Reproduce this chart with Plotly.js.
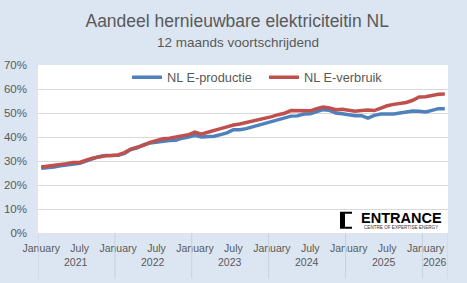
<!DOCTYPE html>
<html><head><meta charset="utf-8">
<script src="https://cdn.plot.ly/plotly-3.0.1.min.js"></script>
<style>html,body{margin:0;padding:0;background:#DCE6F2;} #chart{width:467px;height:283px;}</style>
</head><body><div id="chart"></div>
<script>
const years = [2021, 2022, 2023, 2024, 2025, 2026];
const monthNames = ['January','February','March','April','May','June','July','August','September','October','November','December'];
const monthsInLastYear = 4;
const seriesNames = ['NL E-productie', 'NL E-verbruik'];
// % renewable share, 12-month rolling, Jan 2021 .. Apr 2026
const productie = [27.0,27.2,27.5,28.0,28.3,28.6,29.0,30.0,31.0,31.8,32.3,32.4,
  32.4,33.2,34.8,35.5,36.8,37.5,37.9,38.0,38.5,38.6,39.5,40.0,
  40.7,40.0,40.0,40.3,41.0,41.7,43.0,43.0,43.5,44.2,45.0,45.8,
  46.5,47.2,47.8,48.7,48.8,49.6,49.7,50.4,51.4,51.1,50.0,49.7,
  49.2,48.9,48.9,47.9,49.0,49.6,49.6,49.6,50.0,50.4,50.8,50.7,
  50.4,51.1,51.8,51.8];
const verbruik = [27.5,27.8,28.0,28.4,28.9,29.4,29.4,30.3,31.2,31.7,32.2,32.3,
  32.5,33.5,35.0,35.8,36.5,37.8,38.6,39.3,39.5,39.9,40.4,41.0,
  42.0,41.2,42.0,42.6,43.5,44.2,45.0,45.4,46.0,46.5,47.1,47.9,
  48.5,49.3,49.9,51.0,51.0,51.0,50.9,51.8,52.5,52.1,51.4,51.6,
  51.0,50.7,51.0,51.2,51.0,52.1,53.0,53.6,53.9,54.4,55.3,56.7,
  56.8,57.3,57.8,57.9];
const yTicks = [0, 10, 20, 30, 40, 50, 60, 70];
const yTickText = yTicks.map(v => v + '%');
const titleText = 'Aandeel hernieuwbare elektriciteitin NL';
const subtitleText = '12 maands voortschrijdend';
const logoText = 'ENTRANCE';
const logoSub = 'CENTRE OF EXPERTISE ENERGY';

const categories = [], catMonth = [], catYearIdx = [];
years.forEach((y, yi) => {
  const n = yi === years.length - 1 ? monthsInLastYear : 12;
  for (let m = 0; m < n; m++) {
    categories.push(y + '-' + String(m + 1).padStart(2, '0'));
    catMonth.push(m); catYearIdx.push(yi);
  }
});
const tickIdx = categories.map((c, i) => i).filter(i => catMonth[i] === 0 || catMonth[i] === 6);
const tickvals = tickIdx.map(i => categories[i]);
const ticktext = tickIdx.map(i => monthNames[catMonth[i]]);

// plot-area pixel helpers (plot area 38..448 x, 65.3..233.3 y)
const PL = 38, PR = 448, PT = 65.3, PB = 233.3;
const fx = px => (px - PL) / (PR - PL);
const fy = py => (PB - py) / (PB - PT);
const FONT = 'Liberation Sans, Arial, sans-serif';

const shapes = [];
const annotations = [];
const firstIdx = years.map((y, yi) => catYearIdx.indexOf(yi));
const bounds = firstIdx.map(i => i - 0.5).concat([categories.length - 0.5]);
bounds.forEach(b => shapes.push({type: 'line', xref: 'x', yref: 'paper', x0: b, x1: b, y0: 0, y1: fy(279),
  line: {color: '#C9D0DA', width: 1}}));
years.forEach((y, yi) => {
  const s = bounds[yi], e = bounds[yi + 1];
  annotations.push({xref: 'x', yref: 'paper', x: (s + e) / 2, y: fy(262), text: String(y), showarrow: false,
    xanchor: 'center', yanchor: 'middle', font: {family: FONT, size: 10.5, color: '#595959'}});
});
// subtitle
annotations.push({xref: 'paper', yref: 'paper', x: fx(238), y: fy(42.5), text: subtitleText, showarrow: false,
  xanchor: 'center', yanchor: 'middle', font: {family: FONT, size: 13.5, color: '#595959'}});
// logo
const bx = [[340,212],[352,212],[352,214],[345,214],[345,227],[352,227],[352,229],[340,229]];
shapes.push({type: 'path', xref: 'paper', yref: 'paper',
  path: 'M' + bx.map(p => fx(p[0]) + ',' + fy(p[1])).join(' L') + ' Z',
  fillcolor: '#000000', line: {width: 0}});
annotations.push({xref: 'paper', yref: 'paper', x: fx(401), y: fy(218.5), text: '<b>' + logoText + '</b>', showarrow: false,
  xanchor: 'center', yanchor: 'middle', font: {family: FONT, size: 14.5, color: '#000000'}});
annotations.push({xref: 'paper', yref: 'paper', x: fx(401), y: fy(227.5), text: logoSub, showarrow: false,
  xanchor: 'center', yanchor: 'middle', font: {family: FONT, size: 4.6, color: '#333333'}});

const traces = [
  {x: categories, y: productie, name: seriesNames[0], type: 'scatter', mode: 'lines',
   line: {color: '#4F81BD', width: 3.5}},
  {x: categories, y: verbruik, name: seriesNames[1], type: 'scatter', mode: 'lines',
   line: {color: '#C0504D', width: 3.5}}
];

const layout = {
  width: 467, height: 283,
  paper_bgcolor: '#DCE6F2', plot_bgcolor: '#FFFFFF',
  margin: {l: PL, r: 467 - PR, t: PT, b: 283 - PB, pad: 0},
  font: {family: FONT, color: '#595959'},
  title: {text: titleText, x: 0.508, xanchor: 'center', y: 1 - 21 / 283, yanchor: 'middle', yref: 'container',
    font: {size: 17.5, color: '#595959'}},
  showlegend: true,
  legend: {orientation: 'h', x: fx(127), y: fy(77.7), xanchor: 'left', yanchor: 'middle',
    bgcolor: 'rgba(0,0,0,0)', font: {size: 12.8, color: '#595959'}, itemwidth: 30, tracegroupgap: 0,
    entrywidth: 92},
  xaxis: {type: 'category', categoryorder: 'array', categoryarray: categories,
    range: [-0.5, categories.length - 0.5], tickmode: 'array', tickvals: tickvals, ticktext: ticktext,
    showgrid: false, zeroline: false, showline: false, ticks: '', tickangle: 0,
    ticklabelstandoff: 7, tickfont: {size: 10.5, color: '#595959'}},
  yaxis: {range: [0, 70], tickmode: 'array', tickvals: yTicks, ticktext: yTickText,
    showgrid: true, gridcolor: '#D9D9D9', gridwidth: 1, zeroline: false, showline: false, ticks: '',
    ticklabelstandoff: 10, tickfont: {size: 11.5, color: '#595959'}},
  shapes: shapes, annotations: annotations
};
Plotly.newPlot('chart', traces, layout, {displayModeBar: false, staticPlot: true});
</script></body></html>
